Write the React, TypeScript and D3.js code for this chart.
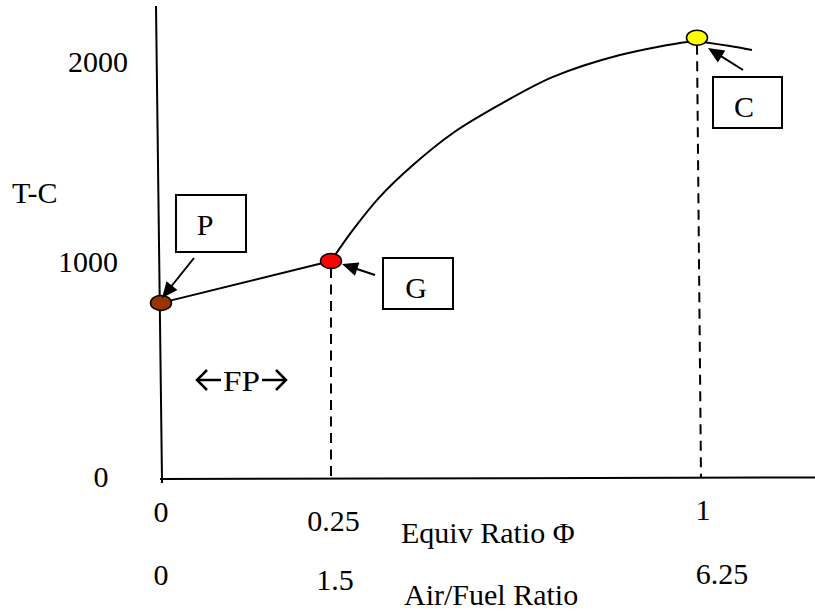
import React from "react";
import * as d3 from "d3";

// ---- data ----
const phiTicks = [0, 0.25, 1];
const phiTickLabels = ["0", "0.25", "1"];
const afrTickLabels = ["0", "1.5", "6.25"];
const tempTicks = [0, 1000, 2000];
const tempTickLabels = ["0", "1000", "2000"];

// state points: name, phi, temperature, colour
const pointNames = ["P", "G", "C"];
const pointPhi = [0, 0.25, 1];
const pointTemp = [806, 1000, 2122];
const pointColors = ["#993300", "#ff0000", "#ffff00"];

// flame temperature curve from G through C
const curvePhi = [0.25, 0.295, 0.35, 0.418, 0.5, 0.602, 0.705, 0.842, 0.98, 1.0, 1.0225, 1.0676, 1.1127];
const curveTemp = [1000, 1156, 1322, 1482, 1643, 1794, 1925, 2035, 2101, 2104, 2097, 2080, 2060];

const FONT = "'Liberation Serif', 'Times New Roman', serif";

export default function App() {
  const W = 815;
  const H = 613;
  const x = d3.scaleLinear().domain([0, 0.25, 1]).range([161, 331, 697]);
  const y = d3.scaleLinear().domain([0, 1000, 2000]).range([477, 261, 62]);

  const line = d3
    .line<number>()
    .x((_, i) => x(curvePhi[i]))
    .y((d) => y(d))
    .curve(d3.curveCatmullRom.alpha(0.5));

  const pg = d3
    .line<number>()
    .x((_, i) => x(pointPhi[i]))
    .y((d) => y(d));

  // layout nudges for labels (text placement only)
  const yLabelCx = [101, 88, 98];
  const yLabelDy = [10, 11, 10];
  const xLabelDx = [0, 2.5, 6];
  const xLabelDy = [45, 54, 43];
  const afrDx = [0, 4, 25];
  const afrDy = [108, 113, 107];

  // annotation boxes & arrows
  const boxes = [
    { x: 176, y: 195, w: 70, h: 57, tx: 205, ty: 235 },
    { x: 383, y: 258, w: 70, h: 51, tx: 416, ty: 298 },
    { x: 713, y: 77, w: 69, h: 51, tx: 744, ty: 117 },
  ];
  const arrows = [
    { x1: 194, y1: 258, x2: 162, y2: 298 },
    { x1: 375, y1: 275, x2: 342, y2: 264 },
    { x1: 743, y1: 70, x2: 708, y2: 48 },
  ];

  const arrowHead = (a: { x1: number; y1: number; x2: number; y2: number }) => {
    const ang = Math.atan2(a.y2 - a.y1, a.x2 - a.x1);
    const L = 16;
    const Wd = 7;
    const bx = a.x2 - L * Math.cos(ang);
    const by = a.y2 - L * Math.sin(ang);
    const px = -Math.sin(ang) * Wd;
    const py = Math.cos(ang) * Wd;
    return `M${a.x2},${a.y2}L${bx + px},${by + py}L${bx - px},${by - py}Z`;
  };

  const y0 = y(0);

  return (
    <svg
      width={W}
      height={H}
      style={{ position: "absolute", left: 0, top: 0, display: "block", background: "#fff" }}
      fontFamily={FONT}
    >
      {/* axes */}
      <line x1={156} y1={6} x2={162} y2={480} stroke="#000" strokeWidth={2} />
      <line x1={160} y1={y0 + 2} x2={815} y2={y0 + 0.5} stroke="#000" strokeWidth={2} />
      <line x1={162} y1={y0} x2={162} y2={y0 + 6} stroke="#000" strokeWidth={2} />

      {/* dashed drop lines */}
      {[1, 2].map((i) => (
        <line
          key={"d" + i}
          x1={x(pointPhi[i])}
          y1={y(pointTemp[i]) + 7}
          x2={x(pointPhi[i]) + (i === 2 ? 4 : 0)}
          y2={y0}
          stroke="#000"
          strokeWidth={2}
          strokeDasharray="10,6.5"
        />
      ))}

      {/* P -> G straight segment */}
      <path d={pg(pointTemp.slice(0, 2)) || ""} fill="none" stroke="#000" strokeWidth={2} />
      {/* G -> C curve */}
      <path d={line(curveTemp) || ""} fill="none" stroke="#000" strokeWidth={2} />

      {/* state points */}
      {pointNames.map((n, i) => (
        <ellipse
          key={n}
          cx={x(pointPhi[i])}
          cy={y(pointTemp[i])}
          rx={10.5}
          ry={7.5}
          fill={pointColors[i]}
          stroke="#000"
          strokeWidth={1.5}
        />
      ))}

      {/* annotation arrows */}
      {arrows.map((a, i) => (
        <g key={"a" + i}>
          <line x1={a.x1} y1={a.y1} x2={a.x2 + (a.x1 - a.x2) * 0.2} y2={a.y2 + (a.y1 - a.y2) * 0.2} stroke="#000" strokeWidth={2} />
          <path d={arrowHead(a)} fill="#000" />
        </g>
      ))}

      {/* annotation boxes */}
      {boxes.map((b, i) => (
        <g key={"b" + i}>
          <rect x={b.x} y={b.y} width={b.w} height={b.h} fill="#fff" stroke="#000" strokeWidth={2} />
          <text x={b.tx} y={b.ty} fontSize={30} textAnchor="middle">
            {pointNames[i]}
          </text>
        </g>
      ))}

      {/* y tick labels */}
      {tempTicks.map((t, i) => (
        <text key={"yt" + t} x={yLabelCx[i]} y={y(t) + yLabelDy[i]} fontSize={30} textAnchor="middle">
          {tempTickLabels[i]}
        </text>
      ))}
      <text x={12} y={203} fontSize={30}>
        T-C
      </text>

      {/* x tick labels (equivalence ratio) */}
      {phiTicks.map((p, i) => (
        <text key={"xt" + i} x={x(p) + xLabelDx[i]} y={y0 + xLabelDy[i]} fontSize={30} textAnchor="middle">
          {phiTickLabels[i]}
        </text>
      ))}
      <text x={401} y={543} fontSize={30}>
        Equiv Ratio Φ
      </text>

      {/* second row: air/fuel ratio */}
      {phiTicks.map((p, i) => (
        <text key={"af" + i} x={x(p) + afrDx[i]} y={y0 + afrDy[i]} fontSize={30} textAnchor="middle">
          {afrTickLabels[i]}
        </text>
      ))}
      <text x={404} y={605} fontSize={30}>
        Air/Fuel Ratio
      </text>

      {/* flame propagation range: ←FP→ */}
      <g stroke="#000" strokeWidth={2.5} fill="none" strokeLinecap="butt" strokeLinejoin="miter">
        <line x1={197} y1={380} x2={221} y2={380} />
        <polyline points="207,370 197,380 207,390" />
        <line x1={262} y1={380} x2={286} y2={380} />
        <polyline points="276,370 286,380 276,390" />
      </g>
      <text x={223} y={391} fontSize={30} textLength={37} lengthAdjust="spacingAndGlyphs">
        FP
      </text>
    </svg>
  );
}
